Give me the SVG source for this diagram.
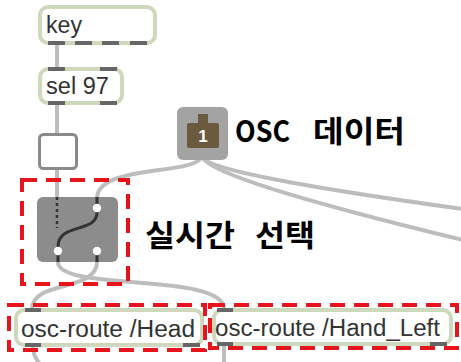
<svg xmlns="http://www.w3.org/2000/svg" width="461" height="362" viewBox="0 0 461 362">
<style>
.conn{fill:none;stroke:#bdbdbd;stroke-width:4;stroke-linecap:round}
.box{fill:#fff;stroke:#cdd8bd;stroke-width:4}
.io{fill:#666}
.mt{font-family:"Liberation Sans",Arial,sans-serif;font-size:23px;fill:#333}
.ko{font-family:"Noto Sans CJK KR","Noto Sans",sans-serif;font-weight:bold;font-size:30px;fill:#000}
.hl{fill:none;stroke:#e8141b;stroke-width:4;stroke-dasharray:15 9}
</style>
<rect width="461" height="362" fill="#fff"/>
<g id="connectors">
<path class="conn" d="M57,44 V68"/>
<path class="conn" d="M57,104 V134"/>
<path class="conn" d="M57,169 V198"/>
<path class="conn" d="M201,158 C190,175 98,165 97,198"/>
<path class="conn" d="M203,158 Q215,175 463,209"/>
<path class="conn" d="M203,158 Q215,180 463,240"/>
<path class="conn" d="M97,262 C97,292 32,280 32,309"/>
<path class="conn" d="M58,262 C58,292 224,272 224,309"/>
<path class="conn" d="M33,346 Q33,358 42,366"/>
<path class="conn" d="M224,346 V364"/>
</g>
<g id="key">
<rect class="box" x="40" y="7" width="115" height="36" rx="8"/>
<rect class="io" x="48" y="41" width="17" height="4"/>
<rect class="io" x="75" y="41" width="17" height="4"/>
<rect class="io" x="102" y="41" width="17" height="4"/>
<rect class="io" x="130" y="41" width="17" height="4"/>
<text class="mt" x="46" y="33" textLength="36" lengthAdjust="spacingAndGlyphs">key</text>
</g>
<g id="sel97">
<rect class="box" x="40" y="69" width="82" height="34" rx="8"/>
<rect class="io" x="48" y="67" width="17" height="4"/>
<rect class="io" x="100" y="67" width="17" height="4"/>
<rect class="io" x="48" y="101" width="17" height="4"/>
<rect class="io" x="100" y="101" width="17" height="4"/>
<text class="mt" x="46" y="94" textLength="63" lengthAdjust="spacingAndGlyphs">sel 97</text>
</g>
<g id="toggle">
<rect x="39.5" y="134.5" width="37" height="34" rx="4" fill="#fff" stroke="#8a8a8a" stroke-width="3"/>
</g>
<g id="osc-data">
<rect x="177" y="107" width="51" height="53" rx="6" fill="#a3a3a3"/>
<rect x="198" y="114" width="10" height="10" fill="#6b5a3d"/>
<rect x="187" y="123" width="32" height="25" rx="2" fill="#6b5a3d"/>
<text x="203" y="141.5" text-anchor="middle" font-family="Liberation Sans,Arial,sans-serif" font-weight="bold" font-size="17" fill="#fff">1</text>
<text class="ko" y="142"><tspan x="235" textLength="55" lengthAdjust="spacingAndGlyphs">OSC</tspan><tspan x="313" textLength="92" lengthAdjust="spacingAndGlyphs">데이터</tspan></text>
</g>
<g id="gate">
<rect x="37" y="197" width="81" height="65" rx="6" fill="#8c8c8c"/>
<path d="M57,197 V228" stroke="#333" stroke-width="2.5" stroke-dasharray="3 3" fill="none"/>
<path d="M97,197 V205 M58,255 V262 M97,255 V262" stroke="#333" stroke-width="3" fill="none"/>
<path d="M97,212 C97,234 58,222 58,247" stroke="#333" stroke-width="3" fill="none"/>
<circle cx="97" cy="208" r="4.2" fill="#fff"/>
<circle cx="58" cy="251" r="4.2" fill="#fff"/>
<circle cx="97" cy="251" r="4.2" fill="#fff"/>
<text class="ko" y="246"><tspan x="145" textLength="90" lengthAdjust="spacingAndGlyphs">실시간</tspan><tspan x="255" textLength="60" lengthAdjust="spacingAndGlyphs">선택</tspan></text>
</g>
<g id="osc-route-head">
<rect class="box" x="16" y="310" width="186" height="35" rx="8"/>
<rect class="io" x="25" y="308" width="16" height="4"/>
<rect class="io" x="25" y="343" width="16" height="4"/>
<rect class="io" x="183" y="343" width="17" height="4"/>
<text class="mt" x="21" y="337" textLength="174" lengthAdjust="spacingAndGlyphs">osc-route /Head</text>
</g>
<g id="osc-route-hand-left">
<rect class="box" x="214" y="310" width="237" height="34" rx="8"/>
<rect class="io" x="217" y="308" width="16" height="4"/>
<rect class="io" x="217" y="342" width="16" height="4"/>
<rect class="io" x="430" y="342" width="17" height="4"/>
<text class="mt" x="215" y="336" textLength="225" lengthAdjust="spacingAndGlyphs">osc-route /Hand_Left</text>
</g>
<g id="highlights">
<rect class="hl" x="22" y="180" width="106" height="104"/>
<rect class="hl" x="9" y="305" width="196" height="45"/>
<rect class="hl" x="210" y="305" width="247" height="43"/>
</g>
</svg>
